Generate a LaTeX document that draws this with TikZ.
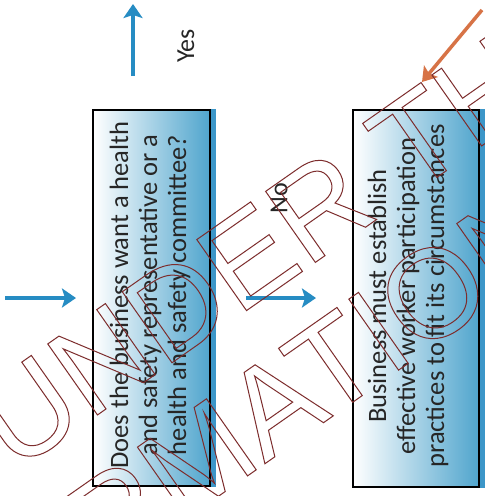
\documentclass[tikz,border=0pt]{standalone}
\usepackage{fontspec}
\setmainfont{Carlito}
\newfontfamily\wmfont{Liberation Sans}
\usetikzlibrary{arrows.meta}
\definecolor{arrowblue}{RGB}{38,140,195}
\definecolor{boxblue}{RGB}{80,165,205}
\definecolor{shadowblue}{RGB}{60,150,200}
\definecolor{wmred}{RGB}{125,45,45}
\definecolor{orangearrow}{RGB}{215,115,70}
\newcommand\outlinedtext[1]{\special{pdf:literal direct 1 Tr 1 w}#1\special{pdf:literal direct 0 Tr}}
\tikzset{
  box/.style={draw=black, line width=1.3pt, left color=white, right color=boxblue, inner sep=0pt},
  boxtext/.style={rotate=90, align=center, font=\fontsize{26.5}{29}\selectfont, text=black!85, inner sep=0pt},
  label/.style={rotate=90, font=\fontsize{26}{28}\selectfont, text=black!85, inner sep=0pt},
  flow/.style={draw=arrowblue, line width=4.5pt, -{Stealth[length=14pt,width=19pt,inset=3pt]}},
  orangeflow/.style={draw=orangearrow, line width=3.5pt, -{Stealth[length=14pt,width=18pt,inset=3pt]}},
  wm/.style={rotate=35, anchor=base, inner sep=0pt, text=wmred, font=\wmfont\fontsize{126}{126}\selectfont}
}
\begin{document}
\begin{tikzpicture}[x=1pt,y=-1pt]
\useasboundingbox (0,0) rectangle (485,496);
\fill[white] (0,0) rectangle (485,496);
% boxes
\node[box, minimum width=117pt, minimum height=376pt] (q) at (151.5,298) {};
\fill[shadowblue] (q.north east) rectangle ([xshift=5pt]q.south east);
\node[box, minimum width=126pt, minimum height=377pt] (b) at (416,298.5) {};
\fill[shadowblue] (b.north east) rectangle ([xshift=5pt]b.south east);
\node[boxtext] (qt) at (150,295) {Does the business want a health\\and safety representative or a\\health and safety committee?};
\node[boxtext] (bt) at (408,296) {Business must establish\\effective worker participation\\practices to fit its circumstances};
% arrows
\coordinate (in1) at (5,298);
\coordinate (in1e) at (76,298);
\coordinate (m1) at (246,298);
\coordinate (m2) at (316,298);
\coordinate (u1) at (133,76);
\coordinate (u2) at (133,4);
\coordinate (o1) at (482,10);
\coordinate (o2) at (422,82);
\draw[flow] (in1) -- (in1e);
\draw[flow] (m1) -- (m2);
\draw[flow] (u1) -- (u2);
\draw[orangeflow] (o1) -- (o2);
\node[label] (yes) at (186,46) {Yes};
\node[label] (no) at (279,198) {No};
% watermark
\begin{scope}
\clip (0,0) rectangle (485,496);
\node[wm] (wm1) at (26,465) {\outlinedtext{RELEASED UNDER THE}};
\node[wm] (wm2) at (86,589) {\outlinedtext{OFFICIAL INFORMATION ACT}};
\end{scope}
\end{tikzpicture}
\end{document}
